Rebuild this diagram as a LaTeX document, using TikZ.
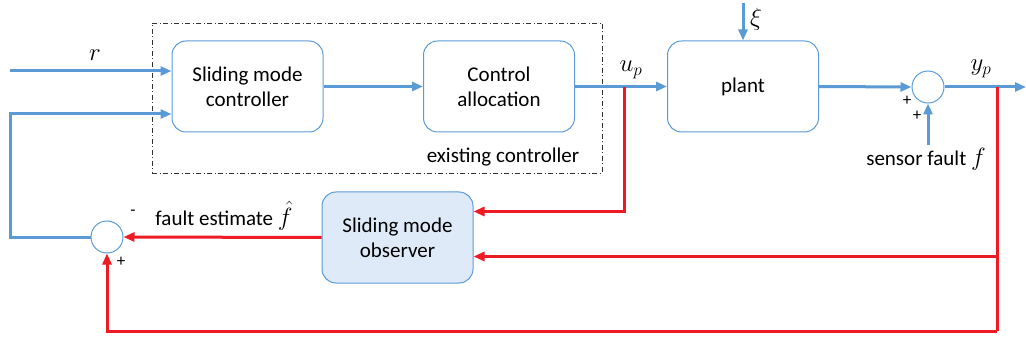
\documentclass[tikz,border=0pt]{standalone}
\usepackage{fontspec}
\setmainfont{Carlito}
\usetikzlibrary{arrows.meta,calc}
\definecolor{bl}{HTML}{5B9BD5}
\definecolor{rd}{HTML}{ED1C24}
\definecolor{fillb}{HTML}{DEEAF7}
\newcommand\mymath[1]{{\fontsize{24}{28}\selectfont$#1$}}
\begin{document}
\begin{tikzpicture}[x=1pt,y=-1pt,
  txt/.style={font=\fontsize{21}{25}\selectfont, inner sep=0pt},
  sm/.style={font=\fontsize{17}{19}\selectfont, inner sep=0pt},
  block/.style={draw=bl, line width=1pt, rounded corners=14pt, minimum width=151pt, minimum height=91pt, align=center, txt},
  sumc/.style={circle, draw=bl, line width=1pt, minimum size=32pt, inner sep=0pt},
  bline/.style={draw=bl, line width=3pt},
  rline/.style={draw=rd, line width=3pt},
  arr/.style={-{Triangle[length=11pt,width=9pt]}},
  dashdotbox/.style={draw=black!80, line width=0.8pt, dash pattern=on 5pt off 2.5pt on 1pt off 2.5pt, minimum width=450pt, minimum height=150pt, inner sep=0pt}
]
\useasboundingbox (0,0) rectangle (1026,342);

\node[dashdotbox] (ec) at (377,98) {};
\node[block] (smc) at (247.5,86.5) {Sliding mode\\controller};
\node[block] (ca) at (499,86.5) {Control\\allocation};
\node[block] (plant) at (743,86.5) {plant};
\node[sumc] (sum1) at (928,87) {};
\node[block, fill=fillb] (smo) at (397.5,237.5) {Sliding mode\\observer};
\node[sumc] (sum2) at (107,237) {};

\coordinate (rin) at (10,71);
\coordinate (fbtop) at (10,114);
\coordinate (fbbot) at (10,237);
\coordinate (up) at (624,87);
\coordinate (yp) at (997,87);
\coordinate (out) at (1026,87);
\coordinate (xi) at (743,3);
\coordinate (sf) at (928,145);
\coordinate (bot) at (997,331);
\coordinate (s1) at ($(smo.east)+(0,-26)$);
\coordinate (s2) at ($(smo.east)+(0,19)$);

% blue signals
\draw[bline,arr] (rin) -- (rin -| smc.west);
\draw[bline,arr] (sum2.west) -- (fbbot) -- (fbtop) -- (fbtop -| smc.west);
\draw[bline,arr] (smc.east) -- (ca.west);
\draw[bline,arr] (ca.east) -- (plant.west);
\draw[bline,arr] (xi) -- (plant.north);
\draw[bline,arr] (plant.east) -- (sum1.west);
\draw[bline,arr] (sf) -- (sum1.south);
\draw[bline,arr] (sum1.east) -- (out);

% red signals
\draw[rline,arr] (up) -- (up |- s1) -- (s1);
\draw[rline] (yp) -- (bot);
\draw[rline,arr] (yp |- s2) -- (s2);
\draw[rline,arr] (bot) -- (bot -| sum2) -- (sum2.south);
\draw[rline,arr] (smo.west) -- (sum2.east);

% labels
\node[txt] (lr) at (95,55) {\mymath{r}};
\node[txt] (lup) at (631,70) {\mymath{u_p}};
\node[txt] (lxi) at (756,19) {\mymath{\xi}};
\node[txt] (lyp) at (981,69) {\mymath{y_p}};
\node[sm] (p1) at (907,101) {+};
\node[sm] (p2) at (917,116) {+};
\node[txt] (lsf) at (926,159) {sensor fault \mymath{f}};
\node[txt] (lec) at (503,157) {existing controller};
\node[txt] (lfe) at (224,216) {fault estimate \mymath{\hat f}};
\node[sm] (m1) at (133,213) {-};
\node[sm] (p3) at (121,262) {+};
\end{tikzpicture}
\end{document}
